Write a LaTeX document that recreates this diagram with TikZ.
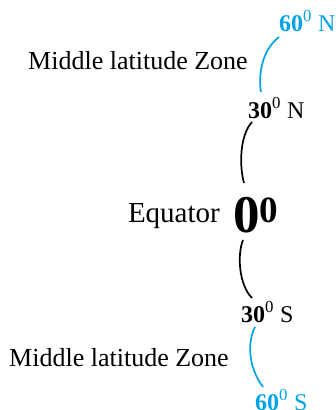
\documentclass[tikz,border=0pt]{standalone}
\usepackage{fontspec}
\setmainfont{Liberation Serif}
\usetikzlibrary{positioning}
\definecolor{latblue}{RGB}{0,164,230}

\begin{document}
\begin{tikzpicture}[x=1pt,y=-1pt,
		zone/.style={font=\fontsize{26}{30}\selectfont, inner sep=0pt, anchor=base west},
		lat/.style={font=\fontsize{24}{28}\selectfont, inner sep=0pt, anchor=base west},
		arc/.style={line width=1.7pt}]
		
		\useasboundingbox (0,0) rectangle (335,410);
		
		% latitude labels
		\node[lat, text=latblue] (n60) at (279,31) {\textbf{60}\textsuperscript{0} N};
		\node[lat] (n30) at (248,118) {\textbf{30}\textsuperscript{0} N};
		\node[lat] (s30) at (241,322) {\textbf{30}\textsuperscript{0} S};
		\node[lat, text=latblue] (s60) at (255,410) {\textbf{60}\textsuperscript{0} S};
		
		% equator
		\node[font=\fontsize{53}{58}\selectfont\bfseries, inner sep=0pt, anchor=base west] (eq) at (233,232) {0\textsuperscript{0}};
		\node[font=\fontsize{29}{33}\selectfont, inner sep=0pt, anchor=base east] (eqname) at (220,222) {Equator};
		
		% zones
		\node[zone] (zn) at (28,69) {Middle latitude Zone};
		\node[zone] (zs) at (9,366) {Middle latitude Zone};
		
		% arcs
		\coordinate (a1) at (279,37);
		\coordinate (a2) at (261,92);
		\coordinate (b1) at (252,122);
		\coordinate (b2) at (244,183);
		\coordinate (c1) at (243,240);
		\coordinate (c2) at (252,298);
		\coordinate (d1) at (255,327);
		\coordinate (d2) at (263,387);
		
		\draw[arc, latblue] (a1) .. controls (262,50) and (258,75) .. (a2);
		\draw[arc] (b1) .. controls (240,135) and (239,165) .. (b2);
		\draw[arc] (c1) .. controls (237,255) and (239,285) .. (c2);
		\draw[arc, latblue] (d1) .. controls (246,345) and (250,370) .. (d2);
		
	\end{tikzpicture}
\end{document}
